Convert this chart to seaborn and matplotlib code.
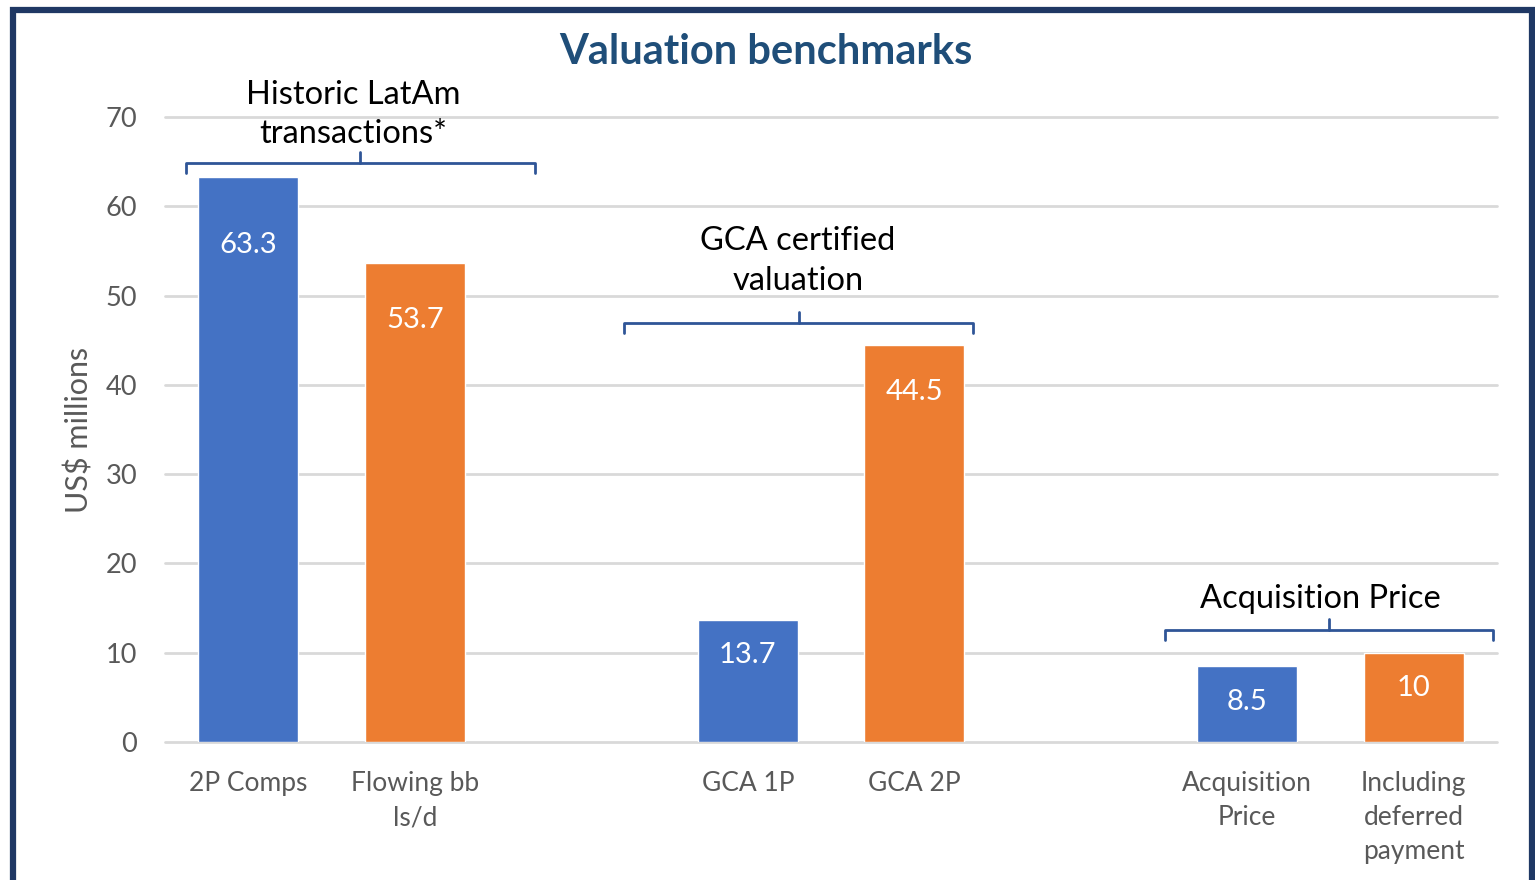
import matplotlib
matplotlib.use("Agg")
import matplotlib.pyplot as plt
import matplotlib.patches as patches
import pandas as pd
import seaborn as sns

# data
categories = ["2P Comps", "Flowing bb\nls/d", "GCA 1P", "GCA 2P",
              "Acquisition\nPrice", "Including\ndeferred\npayment"]
values = [63.3, 53.7, 13.7, 44.5, 8.5, 10]
series = ["A", "B", "A", "B", "A", "B"]
value_labels = ["63.3", "53.7", "13.7", "44.5", "8.5", "10"]

# empty slots between the three groups
slot_order = ["2P Comps", "Flowing bb\nls/d", "_gap1", "GCA 1P", "GCA 2P",
              "_gap2", "Acquisition\nPrice", "Including\ndeferred\npayment"]

group_titles = ["Historic LatAm\ntransactions*", "GCA certified\nvaluation",
                "Acquisition Price"]

BLUE = "#4472C4"
ORANGE = "#ED7D31"
NAVY = "#1F3864"
BRACKET = "#2F5597"
GREY = "#595959"

df = pd.DataFrame({"category": categories, "value": values, "series": series})

sns.set_theme(style="white")
plt.rcParams["font.family"] = ["Lato", "DejaVu Sans"]

fig = plt.figure(figsize=(15.35, 8.8), dpi=100)
ax = fig.add_axes([165 / 1535, 138 / 880, 1332 / 1535, 625 / 880])

sns.barplot(data=df, x="category", y="value", hue="series", order=slot_order,
            palette={"A": BLUE, "B": ORANGE}, dodge=False, width=0.6,
            legend=False, saturation=1, ax=ax)

ax.set_xlim(-0.5, len(slot_order) - 0.5)
ax.set_ylim(0, 70)
ax.set_yticks(range(0, 71, 10))
ax.set_xticks(range(len(slot_order)))
ax.set_xticklabels(["" if c.startswith("_gap") else c for c in slot_order])
ax.tick_params(axis="y", length=0, pad=20, labelsize=19.5, labelcolor=GREY)
ax.tick_params(axis="x", length=0, pad=21, labelsize=19, labelcolor=GREY)
for lab in ax.get_xticklabels():
    lab.set_linespacing(1.45)
ax.set_xlabel("")
ax.set_ylabel("US$ millions", fontsize=22, color=GREY, labelpad=9)
ax.yaxis.grid(True, color="#D9D9D9", linewidth=2, clip_on=False)
ax.set_axisbelow(True)
sns.despine(ax=ax, left=True, bottom=True)

# value labels inside the bars
for cat, v, txt in zip(categories, values, value_labels):
    x = slot_order.index(cat)
    ax.text(x, min(v * 0.88, v - 4), txt, ha="center", va="center",
            color="white", fontsize=21)

# group brackets: (left, right, centre, level)
brackets = [(-0.374, 1.722, 0.671, 64.8),
            (2.257, 4.353, 3.308, 46.9),
            (5.506, 7.476, 6.49, 12.5)]
title_pos = [(0.63, 70.3), (3.30, 53.9), (6.44, 16.0)]
for (x0, x1, xc, y), (tx, ty), title in zip(brackets, title_pos, group_titles):
    ax.plot([x0, x0, x1, x1], [y - 1.1, y, y, y - 1.1], color=BRACKET,
            lw=2, clip_on=False, solid_joinstyle="round")
    ax.plot([xc, xc], [y, y + 1.3], color=BRACKET, lw=2, clip_on=False)
    ax.text(tx, ty, title, ha="center", va="center", fontsize=23.5,
            color="black", linespacing=1.4, clip_on=False)

fig.text(766 / 1535, 1 - 52 / 880, "Valuation benchmarks", ha="center",
         va="center", fontsize=30, fontweight="bold", color="#1F4E79")

# dark frame round the chart, running off the bottom edge
fig.patches.append(patches.Rectangle((13 / 1535, -0.1), 1519 / 1535,
                                     1.1 - 10 / 880, transform=fig.transFigure,
                                     fill=False, edgecolor=NAVY, linewidth=4.5))

fig.savefig("out.png", dpi=100)
